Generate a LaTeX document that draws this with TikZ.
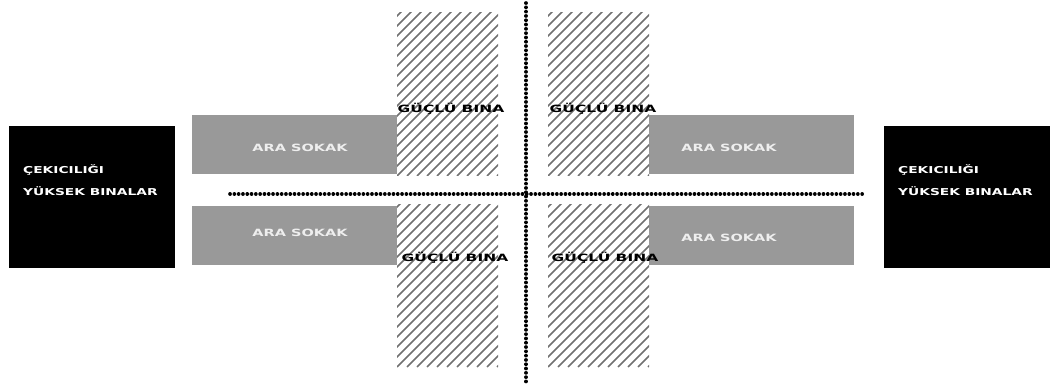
\documentclass[tikz,border=0pt]{standalone}
\usepackage{fontspec}
\newfontfamily\widefont[FakeStretch=1.45]{DejaVu Sans}
\newfontfamily\widerfont[FakeStretch=1.55]{DejaVu Sans}
\definecolor{streetgray}{HTML}{999999}
\definecolor{hatchgray}{HTML}{707070}
\definecolor{labelwhite}{HTML}{EEEEEE}
\begin{document}
\begin{tikzpicture}[x=1pt,y=-1pt,
  blk/.style={fill=black, minimum width=166pt, minimum height=142pt, inner sep=0pt, outer sep=0pt},
  street/.style={fill=streetgray, minimum width=205pt, minimum height=59pt, inner sep=0pt, outer sep=0pt},
  hatchbox/.style={minimum width=101pt, inner sep=0pt, outer sep=0pt,
    path picture={
      \foreach \i in {-250,-240,...,120}
        \draw[hatchgray, line width=1.6pt] ([xshift=\i pt]path picture bounding box.south west) -- ++(200pt,200pt);
    }},
  btext/.style={text=white, font=\widefont\bfseries\fontsize{9.5}{10}\selectfont, anchor=west, inner sep=0pt},
  stext/.style={text=labelwhite, font=\widefont\bfseries\fontsize{10}{11}\selectfont, inner sep=0pt},
  gtext/.style={text=black, font=\widerfont\bfseries\fontsize{10}{11}\selectfont, inner sep=0pt},
  dotline/.style={line width=3.6pt, line cap=round, dash pattern=on 0.1pt off 4.2pt}
]
\useasboundingbox (0,0) rectangle (1053,385);
% black buildings
\node[blk] (bl) at (92,197) {};
\node[blk] (br) at (967,197) {};
\node[btext] (bl1) at (23,170) {ÇEKICILIĞI};
\node[btext] (bl2) at (23,191) {YÜKSEK BINALAR};
\node[btext] (br1) at (898,170) {ÇEKICILIĞI};
\node[btext] (br2) at (898,191) {YÜKSEK BINALAR};
% side streets
\node[street] (s1) at (294.5,144.5) {};
\node[street] (s2) at (294.5,235.5) {};
\node[street] (s3) at (751.5,144.5) {};
\node[street] (s4) at (751.5,235.5) {};
\node[stext] (t1) at (300,148) {ARA SOKAK};
\node[stext] (t2) at (300,233) {ARA SOKAK};
\node[stext] (t3) at (729,148) {ARA SOKAK};
\node[stext] (t4) at (729,238) {ARA SOKAK};
% strong buildings
\node[hatchbox, minimum height=163pt] (h1) at (447.5,94.5) {};
\node[hatchbox, minimum height=163pt] (h2) at (598.5,94.5) {};
\node[hatchbox, minimum height=162pt] (h3) at (447.5,286) {};
\node[hatchbox, minimum height=162pt] (h4) at (598.5,286) {};
\node[gtext] (g1) at (451,109) {GÜÇLÜ BINA};
\node[gtext] (g2) at (603,109) {GÜÇLÜ BINA};
\node[gtext] (g3) at (455,258) {GÜÇLÜ BINA};
\node[gtext] (g4) at (605,258) {GÜÇLÜ BINA};
% dotted axes
\coordinate (vtop) at (526,3);
\coordinate (vbot) at (526,382);
\coordinate (hl) at (230,194);
\coordinate (hr) at (866,194);
\draw[dotline] (vtop) -- (vbot);
\draw[dotline] (hl) -- (hr);
\end{tikzpicture}
\end{document}
